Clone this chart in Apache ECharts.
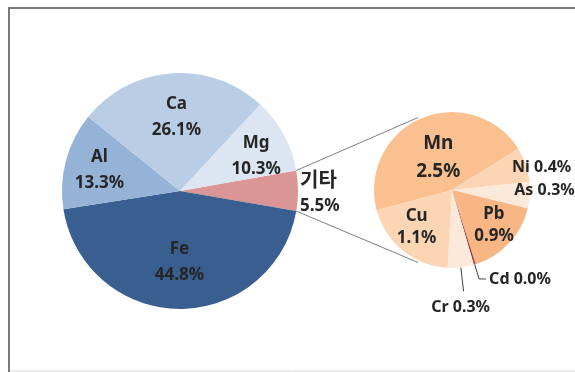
<!DOCTYPE html>
<html>
<head>
<meta charset="utf-8">
<script src="https://cdn.jsdelivr.net/npm/echarts@6/dist/echarts.min.js"></script>
<style>
  html, body { margin: 0; padding: 0; background: #fff; }
  #chart { width: 575px; height: 372px; }
</style>
</head>
<body>
<div id="chart"></div>
<script>
// 성분 비율 (%)
const mainNames = ['기타', 'Fe', 'Al', 'Ca', 'Mg'];
const mainValues = [5.5, 44.8, 13.3, 26.1, 10.3];
// 기타 세부
const subNames = ['Mn', 'Ni', 'As', 'Pb', 'Cd', 'Cr', 'Cu'];
const subValues = [2.5, 0.4, 0.3, 0.9, 0.02, 0.3, 1.1];

const mainColors = { '기타': '#d99694', Fe: '#395e90', Al: '#95b3d7', Ca: '#b9cde5', Mg: '#dce6f2' };
const subColors = { Mn: '#fac090', Ni: '#fcd5b5', As: '#fde9d9', Pb: '#f8b685', Cd: '#953735', Cr: '#fde9d9', Cu: '#fcd5b5' };

const font = '"Noto Sans", "Noto Sans CJK KR", sans-serif';
const textColor = '#262626';

const mainCenter = [180, 191], mainR = 118, mainStart = 10;
const subCenter = [452, 190], subR = 78, subStart = 195;

// 라벨 반경 위치 (inside 기본 0.5r) + 미세 이동
const mainLabelK = { Fe: 0.58, Al: 0.7, Ca: 0.64, Mg: 0.68 };
const mainLabelShift = { Ca: [2, 4], Mg: [3, 5], Al: [2, 1] };
const subLabelK = { Mn: 0.5, Ni: 1.15, As: 1.15, Pb: 0.68, Cu: 0.66 };
const subLabelShift = { Mn: [3, 6], Ni: [2, 7], As: [0, -6], Pb: [1, -3], Cu: [-1, -5] };

function midAngles (values, start) {
  const sum = values.reduce((a, b) => a + b, 0)
  let a = start
  return values.map(v => {
    const span = v / sum * 360
    const m = a - span / 2
    a -= span
    return m
  })
}

function insideOffset (angle, r, k, shift) {
  const rad = angle * Math.PI / 180
  const d = (k - 0.5) * r
  const s = shift || [0, 0]
  return [d * Math.cos(rad) + s[0], -d * Math.sin(rad) + s[1]]
}

function polar (c, r, deg) {
  const rad = deg * Math.PI / 180
  return [c[0] + r * Math.cos(rad), c[1] - r * Math.sin(rad)]
}

const mainMid = midAngles(mainValues, mainStart)
const subMid = midAngles(subValues, subStart)

const mainData = mainNames.map((n, i) => {
  const item = { name: n, value: mainValues[i], itemStyle: { color: mainColors[n] } }
  if (n === '기타') {
    item.label = {
      position: 'outside',
      align: 'left',
      distanceToLabelLine: 2,
      offset: [0, 3],
      formatter: '{a|{b}}\n{c}%',
      lineHeight: 25,
      rich: { a: { fontSize: 20, fontWeight: 'bold', fontFamily: font, color: textColor, lineHeight: 25 } }
    }
    item.labelLine = { show: false, length: 0, length2: 0 }
  } else {
    item.label = { position: 'inside', offset: insideOffset(mainMid[i], mainR, mainLabelK[n], mainLabelShift[n]) }
  }
  return item
})

const subData = subNames.map((n, i) => {
  const item = { name: n, value: subValues[i], itemStyle: { color: subColors[n] } }
  const oneLine = p => p.name + ' ' + p.value.toFixed(1) + '%'
  if (n === 'Cd' || n === 'Cr') {
    item.label = { position: 'outside', fontSize: 16, distanceToLabelLine: 3, formatter: oneLine }
    item.labelLine = { show: true, length: n === 'Cd' ? 15 : 24, length2: n === 'Cd' ? 7 : 0, lineStyle: { color: '#404040', width: 1 } }
  } else {
    const lab = { position: 'inside', offset: insideOffset(subMid[i], subR, subLabelK[n], subLabelShift[n]) }
    if (n === 'Ni' || n === 'As') {
      lab.fontSize = 16
      lab.formatter = oneLine
    } else if (n === 'Mn') {
      lab.fontSize = 19
      lab.lineHeight = 28
    } else {
      lab.fontSize = 17
      lab.lineHeight = 22
    }
    item.label = lab
  }
  return item
})

// 연결선: 기타 조각 양 끝 -> 보조 원
const etcSpan = mainValues[0] / mainValues.reduce((a, b) => a + b, 0) * 360
const linkAngle = 115
const p1 = polar(mainCenter, mainR, mainStart)
const p2 = polar(mainCenter, mainR, mainStart - etcSpan)
const q1 = polar(subCenter, subR + 2, linkAngle)
const q2 = polar(subCenter, subR + 2, -linkAngle)

const chart = echarts.init(document.getElementById('chart'))
chart.setOption({
  animation: false,
  backgroundColor: '#fff',
  graphic: [
    { type: 'polyline', shape: { points: [[9, 372], [9, 8], [575, 8]] }, style: { stroke: '#7a7a7a', lineWidth: 2, fill: null } },
    { type: 'line', shape: { x1: 10, y1: 371, x2: 575, y2: 371 }, style: { stroke: '#d9d9d9', lineWidth: 1 } },
    { type: 'line', shape: { x1: p1[0], y1: p1[1], x2: q1[0], y2: q1[1] }, style: { stroke: '#808080', lineWidth: 1 } },
    { type: 'line', shape: { x1: p2[0], y1: p2[1], x2: q2[0], y2: q2[1] }, style: { stroke: '#808080', lineWidth: 1 } }
  ],
  series: [
    {
      type: 'pie',
      center: mainCenter,
      radius: mainR,
      startAngle: mainStart,
      clockwise: true,
      avoidLabelOverlap: false,
      silent: true,
      itemStyle: { borderWidth: 0 },
      label: {
        position: 'inside',
        formatter: '{b}\n{c}%',
        fontFamily: font,
        fontWeight: 'bold',
        fontSize: 17,
        lineHeight: 26,
        color: textColor
      },
      data: mainData
    },
    {
      type: 'pie',
      center: subCenter,
      radius: subR,
      startAngle: subStart,
      clockwise: true,
      avoidLabelOverlap: false,
      silent: true,
      itemStyle: { borderWidth: 0 },
      label: {
        position: 'inside',
        formatter: '{b}\n{c}%',
        fontFamily: font,
        fontWeight: 'bold',
        fontSize: 15,
        color: textColor
      },
      labelLayout: function (p) {
        if (subNames[p.dataIndex] === 'Cr' && p.labelLinePoints) {
          const pts = p.labelLinePoints
          const end = pts[pts.length - 1]
          return { x: end[0] - 3, y: end[1] + 8, align: 'center', verticalAlign: 'top', labelLinePoints: pts }
        }
      },
      data: subData
    }
  ]
})
</script>
</body>
</html>
